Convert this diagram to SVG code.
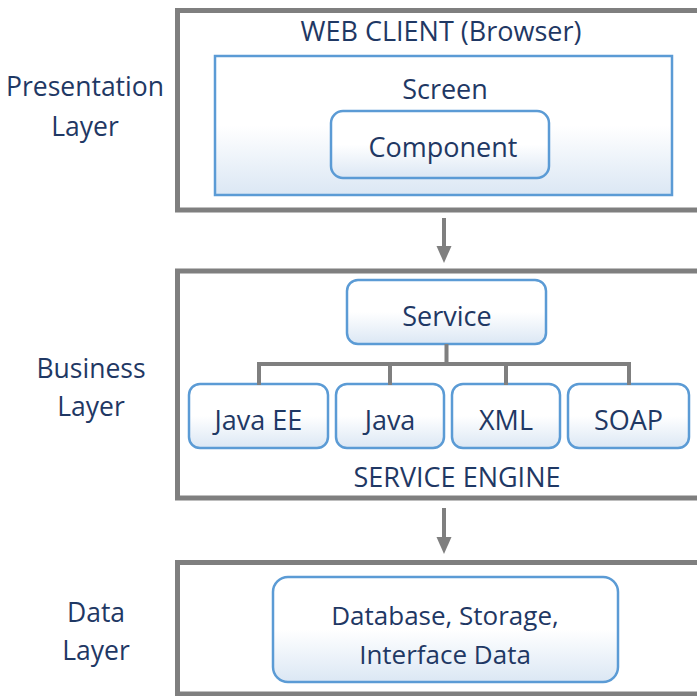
<svg xmlns="http://www.w3.org/2000/svg" width="697" height="696" viewBox="0 0 697 696">
<defs>
<linearGradient id="g" x1="0" y1="0" x2="0" y2="1">
<stop offset="0" stop-color="#ffffff"/>
<stop offset="0.5" stop-color="#ffffff"/>
<stop offset="1" stop-color="#dbe7f4"/>
</linearGradient>
<style>
.layer{fill:#ffffff;stroke:#7f7f7f;stroke-width:5}
.box{fill:url(#g);stroke:#5b9bd5;stroke-width:2.5}
.t{font-family:"Open Sans","Liberation Sans",sans-serif;fill:#1f3864;text-anchor:middle}
.lbl{font-size:26.5px}
.in{font-size:27px}
.db{font-size:26px}
.conn{fill:none;stroke:#7f7f7f;stroke-width:4}
.head{fill:#7f7f7f}
</style>
</defs>
<rect width="697" height="696" fill="#ffffff"/>
<g id="presentation-layer">
<rect class="layer" x="177.5" y="10.5" width="540" height="199.5"/>
<text class="t in" x="441" y="41">WEB CLIENT (Browser)</text>
<text class="t lbl" x="85" y="96">Presentation</text>
<text class="t lbl" x="85" y="136">Layer</text>
</g>
<g id="screen">
<rect class="box" x="215" y="56" width="457" height="139"/>
<text class="t in" x="445" y="99">Screen</text>
</g>
<g id="component">
<rect class="box" x="331" y="111" width="218" height="67" rx="12"/>
<text class="t in" x="443" y="157">Component</text>
</g>
<g id="business-layer">
<rect class="layer" x="177.5" y="271" width="540" height="227"/>
<text class="t in" x="457" y="487">SERVICE ENGINE</text>
<text class="t lbl" x="91" y="378">Business</text>
<text class="t lbl" x="91" y="416">Layer</text>
</g>
<g id="service">
<rect class="box" x="347" y="280" width="199" height="64" rx="11"/>
<text class="t in" x="447" y="326">Service</text>
</g>
<g id="java-ee">
<rect class="box" x="189" y="384" width="139" height="64" rx="11"/>
<text class="t in" x="258.5" y="430">Java EE</text>
</g>
<g id="java">
<rect class="box" x="336" y="384" width="108" height="64" rx="11"/>
<text class="t in" x="390" y="430">Java</text>
</g>
<g id="xml">
<rect class="box" x="452" y="384" width="108" height="64" rx="11"/>
<text class="t in" x="506" y="430">XML</text>
</g>
<g id="soap">
<rect class="box" x="568" y="384" width="121" height="64" rx="11"/>
<text class="t in" x="628.5" y="430">SOAP</text>
</g>
<g id="data-layer">
<rect class="layer" x="177.5" y="562.5" width="540" height="131.5"/>
<text class="t lbl" x="96" y="622">Data</text>
<text class="t lbl" x="96" y="660">Layer</text>
</g>
<g id="database">
<rect class="box" x="273" y="577" width="345" height="105" rx="15"/>
<text class="t db" x="445" y="625">Database, Storage,</text>
<text class="t db" x="445" y="664">Interface Data</text>
</g>
<g id="connectors">
<path class="conn" d="M446.5,344 V364 M259,385 V364 H629 V385 M390,364 V385 M506,364 V385"/>
<line class="conn" x1="444" y1="218" x2="444" y2="247"/>
<path class="head" d="M436.5,246 L451.5,246 L444,263 Z"/>
<line class="conn" x1="444" y1="508" x2="444" y2="538"/>
<path class="head" d="M436.5,537 L451.5,537 L444,554 Z"/>
</g>
</svg>
